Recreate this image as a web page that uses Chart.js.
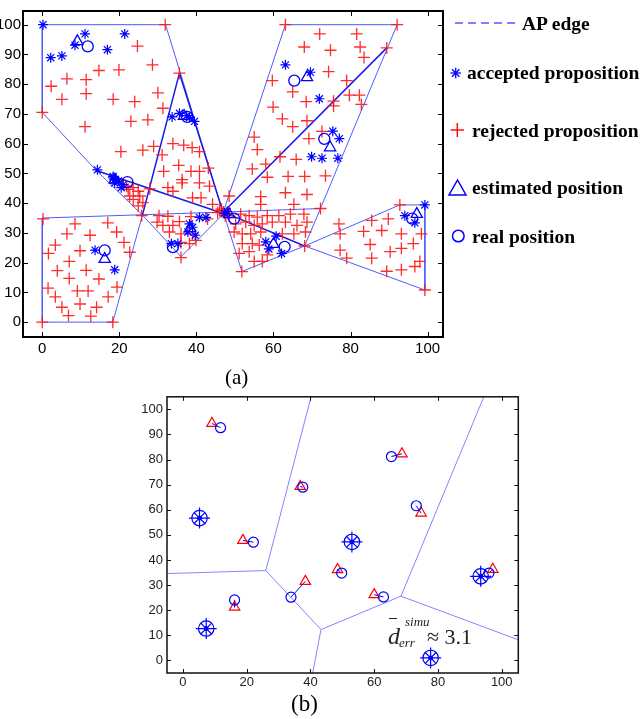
<!DOCTYPE html>
<html lang="en">
<head>
    <meta charset="UTF-8">
    <title>AP localisation</title>
    <style>
        * { margin: 0; padding: 0; box-sizing: border-box; }
        body { background: #fff; width: 641px; height: 719px; position: relative; overflow: hidden; }
        canvas { position: absolute; }
        #topChart { left: 0; top: 0; }
        #bottomChart { left: 128px; top: 385px; }
        .lbl { position: absolute; font-family: "Liberation Serif", "Times New Roman", serif; color: #000; white-space: nowrap; line-height: 1; }
        .leg { font-weight: bold; font-size: 19.5px; }
        .cap { font-size: 21px; }
        .it { font-style: italic; }
    </style>
</head>
<body>
    <canvas id="topChart" width="455" height="362"></canvas>
    <canvas id="bottomChart" width="402" height="310"></canvas>

    <!-- legend of (a) -->
    <svg style="position:absolute;left:440px;top:0" width="85" height="260">
        <line x1="15" y1="23" x2="80" y2="23" stroke="#0000ff" stroke-width="1.2" stroke-dasharray="8 5"/>
        <g stroke="#0000ff" stroke-width="1.3">
            <line x1="10.5" y1="73" x2="20.9" y2="73"/>
            <line x1="15.7" y1="67.8" x2="15.7" y2="78.2"/>
            <line x1="12" y1="69.3" x2="19.4" y2="76.7"/>
            <line x1="12" y1="76.7" x2="19.4" y2="69.3"/>
        </g>
        <g stroke="#ff0000" stroke-width="1.4">
            <line x1="10.5" y1="130" x2="24" y2="130"/>
            <line x1="17.3" y1="123" x2="17.3" y2="137"/>
        </g>
        <polygon points="17.5,180 9,195 26,195" fill="none" stroke="#0000ff" stroke-width="1.5"/>
        <circle cx="18.3" cy="236" r="5.8" fill="none" stroke="#0000ff" stroke-width="1.5"/>
    </svg>
    <div class="lbl leg" style="left:522px;top:14px">AP edge</div>
    <div class="lbl leg" style="left:467px;top:63px">accepted proposition</div>
    <div class="lbl leg" style="left:472px;top:121px">rejected proposition</div>
    <div class="lbl leg" style="left:472px;top:178px">estimated position</div>
    <div class="lbl leg" style="left:472px;top:227px">real position</div>

    <div class="lbl cap" style="left:225px;top:367px">(a)</div>
    <div class="lbl cap" style="left:291px;top:692px;font-size:23px">(b)</div>

    <!-- mean error annotation of (b) -->
    <div style="position:absolute;left:389px;top:618px;width:8px;border-top:1.3px solid #222"></div>
    <div class="lbl it" style="left:388px;top:624px;font-size:24px;color:#222">d</div>
    <div class="lbl it" style="left:405px;top:615px;font-size:13px;color:#222">simu</div>
    <div class="lbl it" style="left:399px;top:636px;font-size:13px;color:#222">err</div>
    <div class="lbl" style="left:427px;top:626px;font-size:22px;color:#222">&asymp; 3.1</div>

    <script src="https://cdn.jsdelivr.net/npm/chart.js@4.4.1/dist/chart.umd.min.js"></script>
    <script>
        // ---- data ----
        // AP coverage edges (a): [x1, y1, x2, y2]
        const apEdges = [
            [0, 100, 32, 100], [32, 100, 47, 36.5], [0, 100, 0, 70.5], [0, 70.5, 14, 51],
            [14, 51, 26, 36], [26, 36, 36, 22], [36, 22, 47.5, 37], [0, 35, 47, 37],
            [0, 35, 0, 0], [0, 0, 18.3, 0], [18.3, 0, 26, 36],
            [63.1, 100, 92.1, 100], [92.1, 100, 72.2, 38.2], [63.1, 100, 47, 37],
            [47, 37, 72.2, 38.2], [72.2, 38.2, 68.1, 25.6], [47, 37, 51.8, 17], [51.8, 17, 68.1, 25.6],
            [68.1, 25.6, 92.8, 39.4], [92.8, 39.4, 99.3, 39.4], [99.3, 39.4, 99.3, 10.8], [99.3, 10.8, 68.1, 25.6]
        ];
        const apLinks = [
            [35.6, 83.7, 26, 36], [35.6, 83.7, 47, 36.5], [14, 51, 47, 36.5],
            [47, 37, 89.4, 92.2], [47, 37, 68.1, 25.6]
        ];

        const rejected = [
            [31.9, 100], [24.7, 92.8], [2.3, 79.3], [6.4, 81.8], [11.4, 81.5], [14.7, 84.6], [19.9, 84.8], [28.6, 86.5],
            [5.1, 74.9], [11.4, 76.8], [18.4, 74.9], [24, 74.1], [30, 77.1], [31.3, 71.9], [0, 70.5], [11.1, 65.7],
            [23, 67.5], [27.4, 68], [20.4, 57.3], [26.1, 57.8], [28.9, 59.1], [31.1, 56.2],
            [35.6, 83.7], [33.9, 60], [36.7, 59.5], [38.9, 58.7], [40.8, 57.3], [35.4, 52.7], [31.5, 50.7], [38.6, 50.7],
            [40.8, 50.7], [43.1, 51.8], [36.3, 47.9], [32.6, 45.2], [36.3, 46.8], [33.9, 44], [40.8, 46.8], [43.4, 45.7],
            [39, 41.8], [41.2, 41.8], [44.2, 39.6],
            [22.3, 44.6], [23.6, 45.2], [24.9, 44], [22.7, 42.4], [25.3, 42.4], [23.6, 41.3], [26.1, 40.2], [24.9, 39.1],
            [27.9, 44.8], [21.9, 45.7], [25.8, 35.8],
            [0.2, 34.7], [8.5, 33], [17, 33.4], [6.4, 29.7], [12.4, 29.2], [19.3, 30.3], [3.4, 25.9], [1.6, 23.1],
            [9.8, 24], [21.2, 26.8], [22.7, 23.5], [7, 20.4], [3.9, 17.3], [11.4, 17.4], [7, 14.7], [14.7, 14.5],
            [1.5, 11.4], [9.1, 10.5], [11.9, 10.5], [19.4, 11.8], [3.4, 8.5], [17.1, 8.5], [9.8, 6.1], [5.1, 5],
            [14.1, 5], [6.8, 2.2], [12.6, 2], [0, 0], [18.3, 0],
            [30.3, 35.8], [32.6, 35.6], [29.8, 33.6], [31.3, 32.5], [33.9, 32.5], [35.6, 33.8], [38.6, 35.5], [42.9, 34.7],
            [33, 30.3], [36, 29.7], [39, 29.7], [36, 26.8], [38.2, 26.4], [39.9, 27.5], [36, 21.7],
            [47, 37], [46, 37.5], [48, 36.5], [45.5, 36.8], [47.5, 35.8], [46.5, 38],
            [63.1, 100], [92.1, 100], [72, 96.9], [81.6, 96.9], [68, 92.5], [74.8, 91.4], [82.5, 92.5], [83.5, 89],
            [89.4, 92.2], [74.3, 84.2], [79, 81.2], [59.7, 81.2], [65, 77.4], [79.7, 76.3], [82.3, 76.3], [82.8, 73.2],
            [68.5, 74.1], [75.6, 74.3], [75.6, 72.7], [59.9, 72.3], [62.3, 68.3], [65, 65.7], [68.7, 67.7], [55, 62.2],
            [55.8, 58], [72.6, 64.1], [69.2, 61.7], [61.7, 55.6], [65.9, 54.7], [58, 53.1], [54.5, 51.5], [58.4, 48.7],
            [63.8, 49], [68.1, 49], [73.5, 49.2], [48.5, 42.4], [56.7, 42.2], [63.1, 43.5], [68.7, 42.9], [56.7, 39.6],
            [65.3, 39.6],
            [48.5, 35.8], [51.5, 36.3], [53.7, 35.8], [55.8, 35.3], [58.4, 35.8], [61.4, 35.8], [64.4, 36.3], [67.9, 36.3],
            [72.2, 38.2], [50.2, 33], [52.8, 33.6], [55, 32.5], [57.1, 33], [59.7, 33.6], [63.1, 33.6], [66.1, 32.5],
            [68.7, 33.6], [49.8, 30.3], [51.9, 29.7], [54.1, 29.7], [56.7, 30.3], [62.3, 29.7], [65.3, 29.7], [68.3, 30.3],
            [51.9, 26.4], [54.5, 26.4], [56.3, 25.9], [51.1, 23.1], [53.7, 23.7], [55, 20.4], [57.1, 20.4], [58.4, 22.6],
            [51.8, 17], [68.1, 25.6],
            [92.8, 39.4], [77.3, 29.7], [77.3, 24.2], [79, 21.5], [85.5, 34.2], [89.8, 34.7], [83.4, 30.5], [88.1, 30.8],
            [93.2, 29.7], [85.1, 26.1], [90.3, 23.7], [93.2, 24.8], [96.3, 26.4], [98.4, 29.7], [85.5, 21.5], [89.4, 17.1],
            [93.2, 17.6], [96.7, 18.7], [98, 20.4], [99.3, 10.8], [77, 33]
        ];

        const accepted = [
            [0.2, 100], [2.2, 88.9], [5.1, 89.5], [8.5, 93.1], [11.1, 96.9], [16.9, 91.6], [21.4, 96.9],
            [33.7, 69], [35.6, 70.2], [37.5, 69.4], [39.5, 67.5], [38.2, 68.8],
            [14.3, 51.2], [18.4, 49], [18.8, 47.9], [18.4, 48.5], [18.8, 46.8], [21, 46.2], [19.8, 47.5], [20.5, 45.2],
            [13.7, 24.2], [18.8, 17.6],
            [33.5, 26.4], [35.2, 26.4], [38.2, 33], [39, 31.9], [37.8, 30.3], [40.8, 35.2], [42.5, 35.2], [39.7, 29.2],
            [47.3, 36.5], [48, 37.2],
            [63.1, 86.5], [69.6, 84], [71.9, 75.1], [75.4, 64.2], [77.1, 61.7], [69.9, 55.6], [72.6, 55.1], [76.7, 55.1],
            [58, 27], [58.8, 24.6], [60.7, 28.9], [62.1, 23.1],
            [94.1, 35.8], [99.3, 39.4], [96.7, 33.4]
        ];

        // real and estimated positions (shared by both panels)
        const realPos = [
            [11.8, 92.7], [37.6, 69], [22.1, 47.1], [65.4, 81.2], [73.2, 61.6],
            [16.2, 24.1], [33.9, 25.2], [49.8, 34.8], [62.9, 25.3], [96, 34.8]
        ];
        const estPos = [
            [9.1, 94.4], [36.8, 69.3], [18.8, 47.8], [68.7, 82.3], [74.7, 58.7],
            [16.2, 21.2], [38.4, 31.5], [48.5, 36.2], [60, 26.2], [97.2, 36.3]
        ];

        // (b): access points and cell edges
        const apPos = [[5.2, 56.7], [7.3, 12.7], [53, 47.2], [93.4, 33.5], [77.7, 1]];
        const cellEdges = [
            [-5, 34.6, 26, 35.8], [26, 35.8, 40.2, 105], [26, 35.8, 43.3, 12.3], [43.3, 12.3, 40.7, -5],
            [43.3, 12.3, 68.4, 25.6], [68.4, 25.6, 94.4, 105], [68.4, 25.6, 105, 8.3]
        ];

        const xTicks = [0, 20, 40, 60, 80, 100];
        const yTicks = [0, 10, 20, 30, 40, 50, 60, 70, 80, 90, 100];

        // ---- helpers ----
        const pts = arr => arr.map(([x, y]) => ({ x, y }));
        function segData(segs) {
            const out = [];
            segs.forEach(([x1, y1, x2, y2]) => out.push({ x: x1, y: y1 }, { x: x2, y: y2 }, { x: x2, y: null }));
            return out;
        }
        function pairSegs() {
            return realPos.map((r, i) => [r[0], r[1], estPos[i][0], estPos[i][1]]);
        }

        // matlab style box with inward ticks
        const boxPlugin = {
            id: 'box',
            afterDraw(chart, args, opts) {
                const { ctx, chartArea: a, scales } = chart;
                const L = opts.tick;
                ctx.save();
                ctx.strokeStyle = opts.color;
                ctx.lineWidth = opts.lw;
                ctx.strokeRect(a.left, a.top, a.right - a.left, a.bottom - a.top);
                ctx.lineWidth = 1;
                ctx.beginPath();
                scales.x.ticks.forEach(t => {
                    const px = Math.round(scales.x.getPixelForValue(t.value)) + 0.5;
                    ctx.moveTo(px, a.bottom); ctx.lineTo(px, a.bottom - L);
                    ctx.moveTo(px, a.top); ctx.lineTo(px, a.top + L);
                });
                scales.y.ticks.forEach(t => {
                    const py = Math.round(scales.y.getPixelForValue(t.value)) + 0.5;
                    ctx.moveTo(a.left, py); ctx.lineTo(a.left + L, py);
                    ctx.moveTo(a.right, py); ctx.lineTo(a.right - L, py);
                });
                ctx.stroke();
                ctx.restore();
            }
        };

        function axes(xw, xh, fontSize, color, yPad, xPad) {
            const font = { family: '"Liberation Sans", Arial, sans-serif', size: fontSize };
            return {
                x: {
                    type: 'linear', min: -5, max: 104,
                    grid: { display: false, drawTicks: false }, border: { display: false },
                    ticks: { font, color, padding: xPad, maxRotation: 0 },
                    afterBuildTicks: s => { s.ticks = xTicks.map(v => ({ value: v })); },
                    afterFit: s => { s.height = xh; }
                },
                y: {
                    type: 'linear', min: -5, max: 104.6,
                    grid: { display: false, drawTicks: false }, border: { display: false },
                    ticks: { font, color, padding: yPad },
                    afterBuildTicks: s => { s.ticks = yTicks.map(v => ({ value: v })); },
                    afterFit: s => { s.width = xw; }
                }
            };
        }

        const baseOpts = {
            responsive: false,
            devicePixelRatio: 1,
            animation: false,
            events: [],
            plugins: { legend: { display: false }, tooltip: { enabled: false } }
        };

        // ---- (a) ----
        const topScales = axes(23, 25, 15, '#000', 2, 3);
        new Chart(document.getElementById('topChart'), {
            type: 'scatter',
            data: {
                datasets: [
                    { data: pts(realPos), pointStyle: 'circle', pointRadius: 5.5, borderColor: '#0000ff', backgroundColor: 'transparent', borderWidth: 1.3 },
                    { data: pts(estPos), pointStyle: 'triangle', pointRadius: 6.5, borderColor: '#0000ff', backgroundColor: 'transparent', borderWidth: 1.3 },
                    { data: pts(accepted), pointStyle: 'star', pointRadius: 5, borderColor: '#0000ff', borderWidth: 1.2 },
                    { data: pts(rejected), pointStyle: 'cross', pointRadius: 6, borderColor: 'rgba(255,20,20,0.9)', borderWidth: 1.3 },
                    { data: segData(apLinks), showLine: true, pointRadius: 0, borderColor: '#1a1ae6', borderWidth: 1.5, spanGaps: false },
                    { data: segData(apEdges), showLine: true, pointRadius: 0, borderColor: '#4f5cff', borderWidth: 1, spanGaps: false }
                ]
            },
            options: {
                ...baseOpts,
                layout: { padding: { left: 0, top: 5, right: 12, bottom: 0 } },
                scales: topScales,
                plugins: { ...baseOpts.plugins, box: { tick: 5, lw: 2, color: '#000' } }
            },
            plugins: [boxPlugin]
        });

        // ---- (b) ----
        const botScales = axes(39, 22, 13, '#222', 4, 2);
        botScales.x.max = 105.2;
        botScales.y.max = 105;
        new Chart(document.getElementById('bottomChart'), {
            type: 'scatter',
            data: {
                datasets: [
                    { data: pts(apPos), pointStyle: 'circle', pointRadius: 2, borderColor: '#0000ff', backgroundColor: '#0000ff', borderWidth: 1 },
                    { data: pts(apPos), pointStyle: 'circle', pointRadius: 7.7, borderColor: '#0000ff', backgroundColor: 'transparent', borderWidth: 1.2 },
                    { data: pts(apPos), pointStyle: 'cross', pointRadius: 10.5, borderColor: '#0000ff', borderWidth: 1.2 },
                    { data: pts(apPos), pointStyle: 'crossRot', pointRadius: 7.7, borderColor: '#0000ff', borderWidth: 1.2 },
                    { data: pts(realPos), pointStyle: 'circle', pointRadius: 5, borderColor: '#0000ff', backgroundColor: 'transparent', borderWidth: 1.2 },
                    { data: pts(estPos), pointStyle: 'triangle', pointRadius: 6, borderColor: '#ff0000', backgroundColor: 'transparent', borderWidth: 1.2 },
                    { data: segData(pairSegs()), showLine: true, pointRadius: 0, borderColor: '#0000ff', borderWidth: 1, spanGaps: false },
                    { data: segData(cellEdges), showLine: true, pointRadius: 0, borderColor: '#7f86ff', borderWidth: 1, spanGaps: false }
                ]
            },
            options: {
                ...baseOpts,
                layout: { padding: { left: 0, top: 10, right: 11, bottom: 0 } },
                scales: botScales,
                plugins: { ...baseOpts.plugins, box: { tick: 4, lw: 1.5, color: '#111' } }
            },
            plugins: [boxPlugin]
        });
    </script>
</body>
</html>
